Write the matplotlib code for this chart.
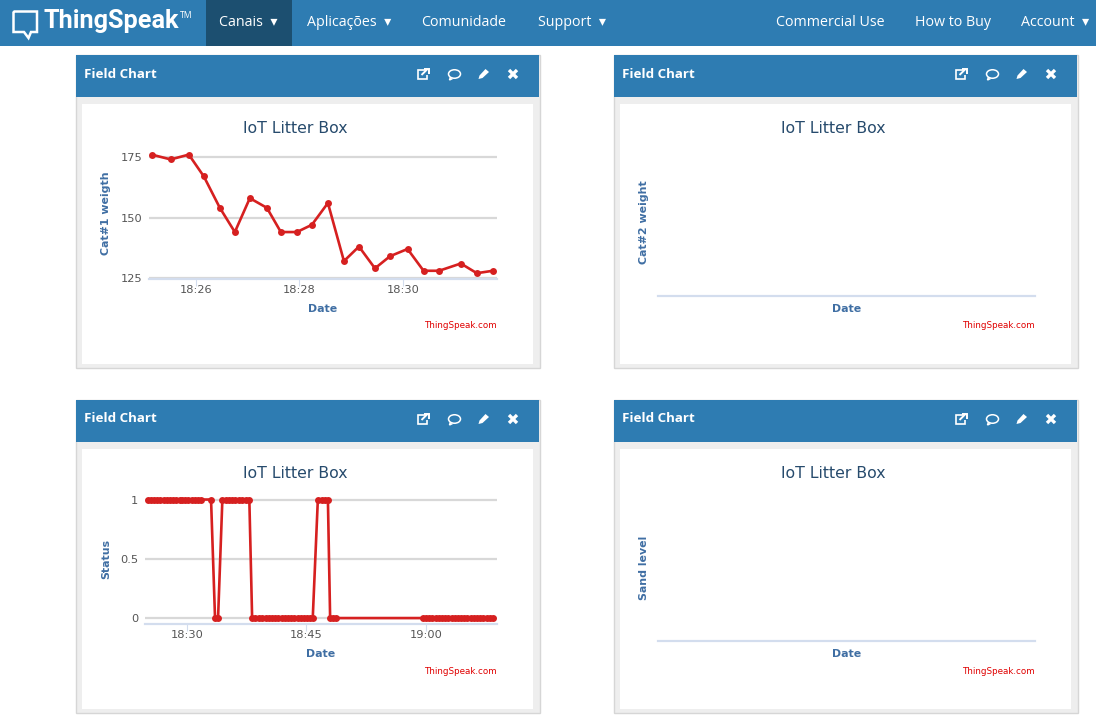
import matplotlib
matplotlib.use("Agg")
import matplotlib.pyplot as plt
from matplotlib.patches import Rectangle, Ellipse, Polygon

W, H = 1096, 721
BLUE = "#2e7cb2"
DARK = "#1c4f70"
RED = "#d62020"
AXIS_BLUE = "#3f6ea3"
GRID = "#d8d8d8"
AXLINE = "#d3ddee"
TICKTXT = "#555555"
TITLE = "#274b6d"

CHART_TITLE = "IoT Litter Box"
PANEL_TITLE = "Field Chart"
CREDIT = "ThingSpeak.com"
NAV_LEFT = ["Canais  \u25be", "Aplicações  \u25be", "Comunidade", "Support  \u25be"]
NAV_RIGHT = ["Commercial Use", "How to Buy", "Account  \u25be"]
YLABELS = ["Cat#1 weigth", "Cat#2 weight", "Status", "Sand level"]

# minutes after 18:00
w_time = [25.14, 25.51, 25.86, 26.15, 26.46, 26.75, 27.04, 27.37, 27.64, 27.95, 28.24,
          28.55, 28.86, 29.15, 29.46, 29.75, 30.09, 30.40, 30.70, 31.12, 31.43, 31.74]
w_vals = [176, 174, 176, 167, 154, 144, 158, 154, 144, 144, 147,
          156, 132, 138, 129, 134, 137, 128, 128, 131, 127, 128]
w_ticks = [26, 28, 30]
w_ticklabels = ["18:26", "18:28", "18:30"]
w_yticks = [125, 150, 175]
w_ylabels = ["125", "150", "175"]

s_time = [25.14, 25.5, 25.9, 26.3, 26.7, 27.1, 27.5, 27.9, 28.3, 28.7, 29.1, 29.4, 29.8, 30.2,
          30.6, 31.0, 31.4, 31.8, 33.05, 33.55, 33.93,
          34.47, 34.9, 35.3, 35.7, 36.1, 36.5, 36.9, 37.4, 37.85,
          38.2, 38.6, 39.0, 39.4, 39.9, 40.3, 40.7, 41.1, 41.5, 41.9, 42.3, 42.7, 43.1, 43.5,
          43.9, 44.3, 44.7, 45.1, 45.4, 45.8,
          46.44, 46.9, 47.3, 47.7, 47.98, 48.4, 48.7,
          59.65, 60.0, 60.4, 60.8, 61.2, 61.6, 62.0, 62.4, 62.8, 63.2, 63.6, 64.0, 64.4, 64.8,
          65.2, 65.6, 66.0, 66.4, 66.8, 67.2, 67.6, 68.0, 68.4]
s_vals = [1, 1, 1, 1, 1, 1, 1, 1, 1, 1, 1, 1, 1, 1,
          1, 1, 1, 1, 1, 0, 0,
          1, 1, 1, 1, 1, 1, 1, 1, 1,
          0, 0, 0, 0, 0, 0, 0, 0, 0, 0, 0, 0, 0, 0,
          0, 0, 0, 0, 0, 0,
          1, 1, 1, 1, 0, 0, 0,
          0, 0, 0, 0, 0, 0, 0, 0, 0, 0, 0, 0, 0, 0,
          0, 0, 0, 0, 0, 0, 0, 0, 0]
s_ticks = [30, 45, 60]
s_ticklabels = ["18:30", "18:45", "19:00"]
s_yticks = [0, 0.5, 1]
s_ylabels = ["0", "0.5", "1"]

fig = plt.figure(figsize=(W / 100, H / 100), dpi=100, facecolor="white")
bg = fig.add_axes([0, 0, 1, 1], zorder=0)
bg.set_xlim(0, W)
bg.set_ylim(H, 0)
bg.axis("off")


def rect(x0, y0, x1, y1, color, **kw):
    bg.add_patch(Rectangle((x0, y0), x1 - x0, y1 - y0, facecolor=color, edgecolor="none", **kw))


def ink(xs, ys, lw=1.3, color="white"):
    bg.plot(xs, ys, color=color, lw=lw, solid_capstyle="butt", solid_joinstyle="miter")


# navbar
rect(0, 0, W, 46, BLUE)
rect(206, 0, 292, 46, DARK)
ink([13.5, 37, 37, 31, 28.5, 24, 13.5, 13.5], [11.5, 11.5, 32, 32, 38, 32, 32, 11.5], lw=1.8)
bg.text(43, 21, "ThingSpeak", color="white", fontsize=18.2, fontweight="bold",
        family="Roboto", va="center", ha="left")
bg.text(180, 15.5, "TM", color="white", fontsize=6.2, family="Open Sans", va="center", ha="left")
for label, x in zip(NAV_LEFT, [219, 307, 421.5, 538]):
    bg.text(x, 22, label, color="white", fontsize=10.3, family=["Open Sans", "DejaVu Sans"],
            va="center", ha="left")
for label, x in zip(NAV_RIGHT, [775.5, 915, 1021]):
    bg.text(x, 22, label, color="white", fontsize=10.3, family=["Open Sans", "DejaVu Sans"],
            va="center", ha="left")


def icons(x, y):
    # external link
    ink([x + 7, x, x, x + 9, x + 9], [y - 4, y - 4, y + 5, y + 5, y + 1], lw=1.2)
    ink([x + 4, x + 10], [y + 1, y - 5], lw=1.4)
    ink([x + 6, x + 11, x + 11], [y - 5, y - 5, y], lw=1.4)
    # comment
    bg.add_patch(Ellipse((x + 37, y), 12, 8.5, facecolor="none", edgecolor="white", lw=1.1))
    ink([x + 33, x + 32, x + 35], [y + 3, y + 6, y + 4.5], lw=1.1)
    # pencil
    bg.add_patch(Polygon([[x + 61, y + 5], [x + 62, y + 1.5], [x + 68, y - 5], [x + 71.5, y - 2],
                          [x + 65, y + 4]], closed=True, facecolor="white", edgecolor="none"))
    # cross
    ink([x + 91.5, x + 99.5], [y - 4, y + 4], lw=2.4)
    ink([x + 91.5, x + 99.5], [y + 4, y - 4], lw=2.4)


def panel(x0, y0):
    x1, y1 = x0 + 463, y0 + 313
    bg.add_patch(Rectangle((x0 + .5, y0 + .5), 464, 313.5, facecolor="#eeeeee", edgecolor="#d6d6d6", lw=1))
    rect(x0 + 1, y0 + 1, x1 + 1, y0 + 43, BLUE)
    rect(x0 + 7, y0 + 50, x1 - 5, y1 - 3, "white")
    bg.text(x0 + 9, y0 + 20, PANEL_TITLE, color="white", fontsize=9.6, fontweight="bold",
            family="Open Sans", va="center", ha="left")
    icons(x0 + 342.5, y0 + 20)


for px, py in [(75, 54), (613, 54), (75, 399), (613, 399)]:
    panel(px, py)


def chart(left, right, top, bottom, xlim, ylim, title_xy, ylabel, ylabel_xy, date_xy, credit_xy,
          xticks, xlabels, yticks, ylabs, t=None, v=None):
    ax = fig.add_axes([left / W, 1 - bottom / H, (right - left) / W, (bottom - top) / H],
                      facecolor="none", zorder=2)
    ax.set_xlim(*xlim)
    ax.set_ylim(*ylim)
    for s in ["top", "left", "right"]:
        ax.spines[s].set_visible(False)
    ax.spines["bottom"].set_color(AXLINE)
    ax.spines["bottom"].set_linewidth(1.6)
    ax.set_axisbelow(True)
    ax.set_yticks(yticks, ylabs)
    ax.set_xticks(xticks, xlabels)
    ax.grid(axis="y", color=GRID, lw=1.6)
    ax.tick_params(axis="y", length=0, pad=5, labelsize=8.2, labelcolor=TICKTXT)
    ax.tick_params(axis="x", length=5, width=0.8, color=AXLINE, pad=-0.5, labelsize=8.2, labelcolor=TICKTXT)
    ax.set_title(CHART_TITLE, x=title_xy[0], y=title_xy[1], transform=bg.transData, fontsize=11.3,
                 color=TITLE, va="center", ha="center")
    ax.set_ylabel(ylabel, color=AXIS_BLUE, fontsize=7.9, fontweight="bold")
    ax.yaxis.set_label_coords(ylabel_xy[0], ylabel_xy[1], transform=bg.transData)
    ax.yaxis.label.set_va("center")
    ax.set_xlabel("Date", color=AXIS_BLUE, fontsize=7.9, fontweight="bold")
    ax.xaxis.set_label_coords(date_xy[0], date_xy[1], transform=bg.transData)
    ax.xaxis.label.set_va("center")
    bg.text(credit_xy[0], credit_xy[1], CREDIT, color="#e00000", fontsize=6.3, ha="right", va="center")
    if t is not None:
        ax.plot(t, v, color=RED, lw=1.9, marker="o", ms=5.0, mew=0, clip_on=False, zorder=3)
    return ax


chart(149, 497, 150, 279, (25.09, 31.82), (124.6, 177.9), (295, 128.6), YLABELS[0], (106, 213),
      (323, 309), (497, 325.5), w_ticks, w_ticklabels, w_yticks, w_ylabels, w_time, w_vals)
chart(145, 497, 493, 624, (24.77, 68.9), (-0.05, 1.055), (295, 473), YLABELS[2], (106, 559),
      (321, 654), (497, 671), s_ticks, s_ticklabels, s_yticks, s_ylabels, s_time, s_vals)
# empty charts: no data has been recorded in these fields
chart(658, 1035, 150, 296, (0, 1), (0, 1), (833, 128.6), YLABELS[1], (644, 222),
      (847, 309), (1035, 325.5), [], [], [], [])
chart(658, 1035, 493, 641, (0, 1), (0, 1), (833, 473), YLABELS[3], (644, 568),
      (847, 654), (1035, 671), [], [], [], [])

fig.savefig("out.png", dpi=100, facecolor="white")
